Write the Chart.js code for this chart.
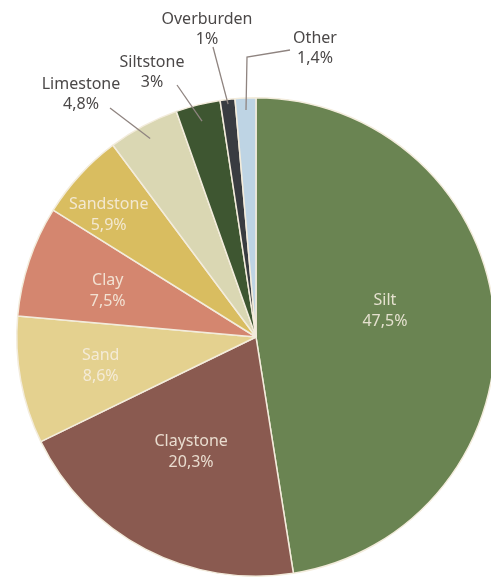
<!DOCTYPE html>
<html>
<head>
<meta charset="utf-8">
<script src="https://cdn.jsdelivr.net/npm/chart.js@4.4.1/dist/chart.umd.min.js"></script>
<style>
  html, body { margin: 0; padding: 0; background: #fff; overflow: hidden; }
  #wrap { width: 512px; height: 577px; }
</style>
</head>
<body>
<div id="wrap"><canvas id="pieChart" width="512" height="577"></canvas></div>
<script>
// soil / rock types, clockwise from 12 o'clock
const labels = ['Silt', 'Claystone', 'Sand', 'Clay', 'Sandstone', 'Limestone', 'Siltstone', 'Overburden', 'Other']
const values = [47.5, 20.3, 8.6, 7.5, 5.9, 4.8, 3, 1, 1.4]
const valueText = ['47,5%', '20,3%', '8,6%', '7,5%', '5,9%', '4,8%', '3%', '1%', '1,4%']
const colors = ['#6a8452', '#8a5a50', '#e4d18f', '#d4866f', '#d9bd60', '#dad7b3', '#3e5631', '#393c41', '#bed4e4']

// where each label goes: inside the slice (radius fraction) or outside with a leader line
const placement = [
  { inside: 0.55, turn: -7 },
  { inside: 0.55, turn: 2 },
  { inside: 0.66, turn: 0 },
  { inside: 0.65, turn: -1 },
  { inside: 0.8, turn: -3 },
  { from: 0.94, line: [[-146, -229]], text: [-175, -243] },
  { from: 0.93, line: [[-79, -252]], text: [-104, -265] },
  { from: 0.98, line: [[-43, -290]], text: [-49, -308] },
  { from: 0.95, line: [[-9, -280], [34, -287]], text: [59, -289] }
]

const labelPlugin = {
  id: 'sliceLabels',
  afterDatasetsDraw(chart) {
    const ctx = chart.ctx
    const arcs = chart.getDatasetMeta(0).data
    ctx.save()
    ctx.textAlign = 'center'
    ctx.textBaseline = 'middle'
    ctx.font = '16px "Noto Sans", sans-serif'
    arcs.forEach((arc, i) => {
      const p = placement[i]
      const cx = arc.x, cy = arc.y
      let mid = (arc.startAngle + arc.endAngle) / 2
      if (p.inside) {
        mid += p.turn * Math.PI / 180
        const r = arc.outerRadius * p.inside
        const x = cx + Math.cos(mid) * r
        const y = cy + Math.sin(mid) * r
        ctx.fillStyle = 'rgba(246, 238, 224, 0.88)'
        ctx.fillText(labels[i], x, y - 10)
        ctx.fillText(valueText[i], x, y + 11)
      } else {
        const r = arc.outerRadius * p.from
        ctx.strokeStyle = '#8f8480'
        ctx.lineWidth = 1.3
        ctx.beginPath()
        ctx.moveTo(cx + Math.cos(mid) * r, cy + Math.sin(mid) * r)
        p.line.forEach(pt => ctx.lineTo(cx + pt[0], cy + pt[1]))
        ctx.stroke()
        ctx.fillStyle = '#4b4848'
        ctx.fillText(labels[i], cx + p.text[0], cy + p.text[1] - 10)
        ctx.fillText(valueText[i], cx + p.text[0], cy + p.text[1] + 10)
      }
    })
    ctx.restore()
  }
}

function pieChart(){
  const data = {
    labels: labels,
    datasets: [{
      data: values,
      backgroundColor: colors,
      borderColor: '#f3ecdc',
      borderWidth: 1.5
    }]
  }
  const config = {
    type: 'pie',
    data: data,
    options: {
      responsive: false,
      animation: false,
      layout: { padding: { left: 16, right: 16, top: 97, bottom: 0 } },
      plugins: {
        legend: { display: false },
        tooltip: { enabled: false }
      }
    },
    plugins: [labelPlugin]
  }
  new Chart(document.querySelector('#pieChart').getContext('2d'), config)
}

pieChart()
</script>
</body>
</html>
